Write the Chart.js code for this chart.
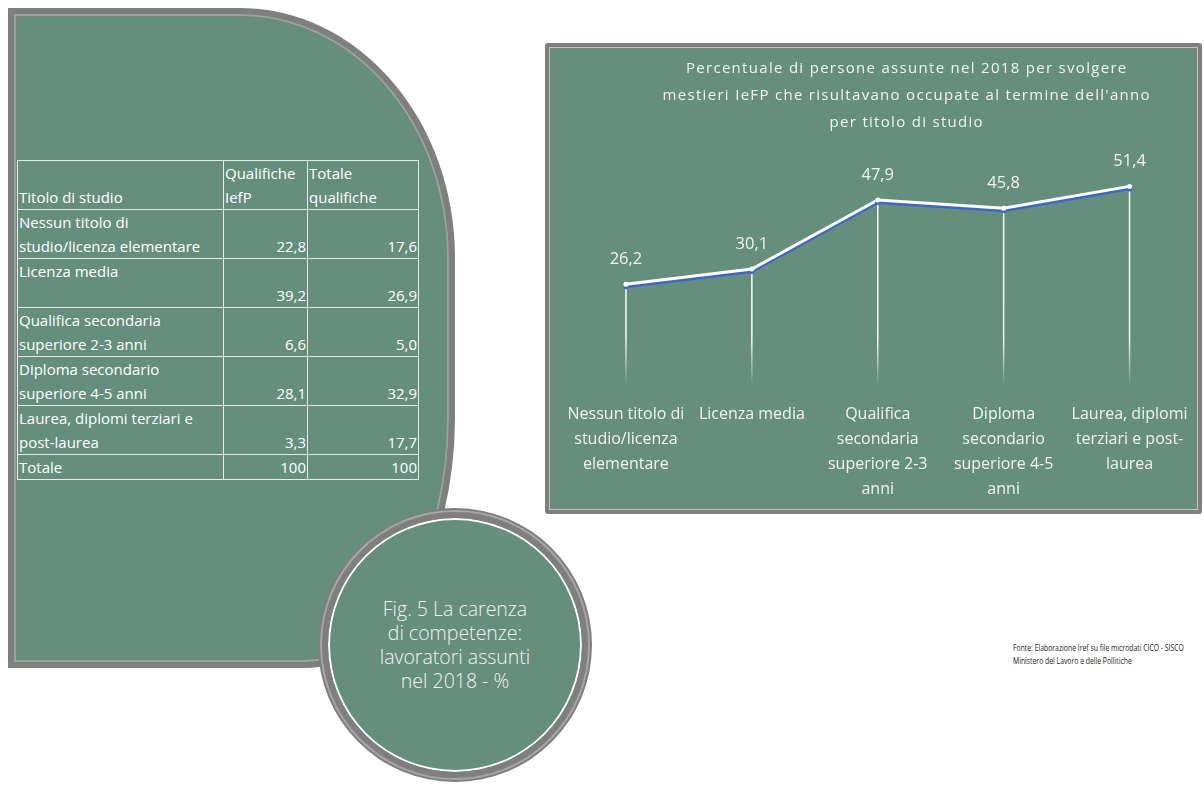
<!DOCTYPE html>
<html lang="it">
<head>
<meta charset="utf-8">
<title>Fig. 5 La carenza di competenze</title>
<script src="https://cdn.jsdelivr.net/npm/chart.js@4.4.1/dist/chart.umd.min.js"></script>
<style>
html, body { margin: 0; padding: 0; background: #fff; }
body { width: 1204px; height: 788px; position: relative; overflow: hidden; font-family: "Open Sans", sans-serif; }
#leftPanel {
    position: absolute; left: 8px; top: 8px; width: 435px; height: 648px;
    background: #668e7d; border: 6px solid #7f7f7f;
    border-top-right-radius: 215px 250px; border-bottom-right-radius: 150px 250px;
    box-shadow: inset 0 0 0 2px #8fa99c, inset 0 0 0 3px #7f7f7f;
}
#tbl {
    position: absolute; left: 17px; top: 160px; border-collapse: collapse; table-layout: fixed; width: 401px;
    color: #fff; font-size: 15px; line-height: 24px;
}
#tbl td { border: 1px solid #e6ece8; padding: 0 1px; vertical-align: bottom; white-space: nowrap; overflow: hidden; }
#tbl td.c1 { text-align: left; }
#tbl td.c2 { text-align: right; }
#tbl td.c3 { text-align: right; }
#tbl tr.head td { text-align: left; }
#circle {
    position: absolute; left: 322px; top: 512px; width: 254px; height: 254px;
    border-radius: 50%; background: #668e7d; border: 6px solid #7f7f7f;
    box-shadow: inset 0 0 0 2px #fff, 0 0 0 2px #a6a6a6, 0 0 0 4px #7f7f7f;
    display: flex; align-items: center; justify-content: center; text-align: center;
    color: #f2f2f2; font-weight: 300; font-size: 19.5px; line-height: 24px;
}
#chartBox {
    position: absolute; left: 545px; top: 43px; width: 649px; height: 463px;
    background: #668e7d; border: 4px solid #7f7f7f; border-radius: 3px;
    box-shadow: inset 0 0 0 1px #b9c6bf, inset 0 0 0 2px #7f7f7f;
}
#chartWrap { position: absolute; left: 549px; top: 47px; width: 655px; height: 477px; }
#fonte {
    position: absolute; left: 1013px; top: 641px; font-size: 9.5px; line-height: 13px; color: #222;
    transform: scaleX(0.72); transform-origin: left top; white-space: nowrap;
}
</style>
</head>
<body>
<div id="leftPanel"></div>
<table id="tbl">
    <colgroup><col style="width:206px"><col style="width:84px"><col style="width:111px"></colgroup>
    <tbody id="tblBody"></tbody>
</table>
<div id="circle"><div id="circleText"></div></div>
<div id="chartBox"></div>
<div id="chartWrap"><canvas id="myChart"></canvas></div>
<div id="fonte"></div>

<script>
'use strict'
// line chart data
const categories = [
    ['Nessun titolo di', 'studio/licenza', 'elementare'],
    ['Licenza media'],
    ['Qualifica', 'secondaria', 'superiore 2-3', 'anni'],
    ['Diploma', 'secondario', 'superiore 4-5', 'anni'],
    ['Laurea, diplomi', 'terziari e post-', 'laurea']
];
const occupati = [26.2, 30.1, 47.9, 45.8, 51.4];
const chartTitle = [
    'Percentuale di persone assunte nel 2018 per svolgere',
    "mestieri IeFP che risultavano occupate al termine dell'anno",
    'per titolo di studio'
];

// table data
const tableHead = [['', 'Titolo di studio'], ['Qualifiche', 'IefP'], ['Totale', 'qualifiche']];
const tableRows = [
    ['Nessun titolo di', 'studio/licenza elementare'],
    ['Licenza media', ''],
    ['Qualifica secondaria', 'superiore 2-3 anni'],
    ['Diploma secondario', 'superiore 4-5 anni'],
    ['Laurea, diplomi terziari e', 'post-laurea']
];
const qualificheIefP = [22.8, 39.2, 6.6, 28.1, 3.3];
const totaleQualifiche = [17.6, 26.9, 5.0, 32.9, 17.7];
const totaleRow = ['Totale', 100, 100];

const circleLines = ['Fig. 5 La carenza', 'di competenze:', 'lavoratori assunti', 'nel 2018 - %'];
const fonteLines = ['Fonte:  Elaborazione Iref su file microdati CICO - SISCO', 'Ministero del Lavoro e delle Pollitiche'];

function fmt(v) {
    return v.toFixed(1).replace('.', ',');
}

// build the table
let html = '<tr class="head">';
tableHead.forEach((h, i) => {
    html += '<td class="c' + (i + 1) + '">' + (h[0] || '&nbsp;') + '<br>' + h[1] + '</td>';
});
html += '</tr>';
tableRows.forEach((r, i) => {
    html += '<tr><td class="c1">' + r[0] + '<br>' + (r[1] || '&nbsp;') + '</td>';
    html += '<td class="c2">' + fmt(qualificheIefP[i]) + '</td>';
    html += '<td class="c3">' + fmt(totaleQualifiche[i]) + '</td></tr>';
});
html += '<tr><td class="c1">' + totaleRow[0] + '</td><td class="c2">' + totaleRow[1] + '</td><td class="c3">' + totaleRow[2] + '</td></tr>';
document.getElementById('tblBody').innerHTML = html;

document.getElementById('circleText').innerHTML = circleLines.join('<br>');
document.getElementById('fonte').innerHTML = fonteLines.join('<br>');

Chart.defaults.font.family = '"Open Sans", sans-serif';
Chart.defaults.color = '#f2f2f2';

// letter-spaced title, drawn by hand (the built-in title has no letter spacing)
const spacedTitle = {
    id: 'spacedTitle',
    afterDraw(chart) {
        const ctx = chart.ctx;
        const area = chart.chartArea;
        const cx = (area.left + area.right) / 2 + 29;
        ctx.save();
        ctx.letterSpacing = '1.3px';
        ctx.font = '15px "Open Sans", sans-serif';
        ctx.fillStyle = '#f2f2f2';
        ctx.textAlign = 'center';
        ctx.textBaseline = 'middle';
        chartTitle.forEach((line, i) => {
            ctx.fillText(line, cx, 22 + i * 27);
        });
        ctx.restore();
    }
};

// white drop lines from each point down to the axis, fading out at the bottom
const dropLines = {
    id: 'dropLines',
    beforeDatasetsDraw(chart) {
        const {ctx, chartArea} = chart;
        const meta = chart.getDatasetMeta(0);
        ctx.save();
        let grad = ctx.createLinearGradient(0, chartArea.top, 0, chartArea.bottom);
        grad.addColorStop(0, 'rgba(255,255,255,1)');
        grad.addColorStop(0.8, 'rgba(255,255,255,0.95)');
        grad.addColorStop(1, 'rgba(255,255,255,0)');
        ctx.strokeStyle = grad;
        ctx.lineWidth = 1.5;
        for (let p of meta.data) {
            ctx.beginPath();
            ctx.moveTo(p.x, p.y);
            ctx.lineTo(p.x, chartArea.bottom);
            ctx.stroke();
        }
        ctx.restore();
    }
};

// blue shadow under the white line
const lineShadow = {
    id: 'lineShadow',
    beforeDatasetDraw(chart) {
        const ctx = chart.ctx;
        ctx.save();
        ctx.shadowColor = '#3f66c6';
        ctx.shadowOffsetY = 2.5;
        ctx.shadowBlur = 0;
    },
    afterDatasetDraw(chart) {
        chart.ctx.restore();
    }
};

// value labels above the points
const valueLabels = {
    id: 'valueLabels',
    afterDatasetsDraw(chart) {
        const ctx = chart.ctx;
        const meta = chart.getDatasetMeta(0);
        ctx.save();
        ctx.font = '16.5px "Open Sans", sans-serif';
        ctx.fillStyle = '#f2f2f2';
        ctx.textAlign = 'center';
        ctx.textBaseline = 'middle';
        meta.data.forEach((p, i) => {
            ctx.fillText(fmt(occupati[i]), p.x, p.y - 25);
        });
        ctx.restore();
    }
};

const ctx = document.getElementById('myChart').getContext('2d');
const myChart = new Chart(ctx, {
    type: 'line',
    data: {
        labels: categories,
        datasets: [{
            data: occupati,
            borderColor: '#ffffff',
            borderWidth: 3,
            pointRadius: 2.5,
            pointBackgroundColor: '#ffffff',
            pointBorderColor: '#ffffff',
            pointBorderWidth: 0,
            tension: 0
        }]
    },
    options: {
        responsive: true,
        maintainAspectRatio: false,
        animation: false,
        layout: {padding: {left: 0, right: 5, top: 106, bottom: 6}},
        plugins: {
            legend: {display: false},
            tooltip: {enabled: false},
            title: {display: false}
        },
        scales: {
            x: {
                offset: true,
                grid: {display: false, drawTicks: false},
                border: {display: false},
                ticks: {
                    color: '#f2f2f2',
                    font: {size: 16, lineHeight: 1.5625},
                    maxRotation: 0,
                    autoSkip: false,
                    padding: 16
                }
            },
            y: {
                min: 0,
                max: 60,
                grid: {display: false, drawTicks: false},
                border: {display: false},
                ticks: {display: false},
                afterFit: (scale) => { scale.width = 14; }
            }
        }
    },
    plugins: [spacedTitle, dropLines, lineShadow, valueLabels]
});
</script>
</body>
</html>
